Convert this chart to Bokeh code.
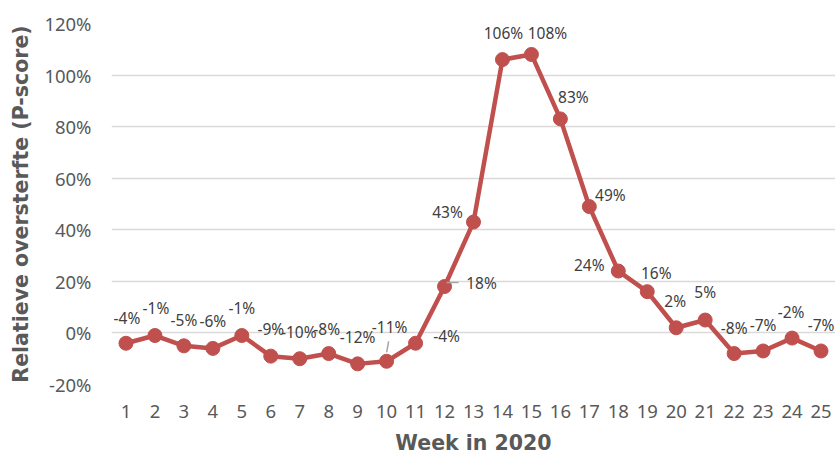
from bokeh.plotting import figure
from bokeh.models import ColumnDataSource, FixedTicker, NumeralTickFormatter, Range1d
from bokeh.core.properties import value
from bokeh.embed import file_html
from bokeh.resources import INLINE

# ---- data ----
weeks = list(range(1, 26))
pscore = [-4, -1, -5, -6, -1, -9, -10, -8, -12, -11, -4, 18, 43, 106, 108, 83, 49, 24, 16, 2, 5, -8, -7, -2, -7]
y_ticks = [-0.2, 0.0, 0.2, 0.4, 0.6, 0.8, 1.0, 1.2]
x_title = "Week in 2020"
y_title = "Relatieve oversterfte (P-score)"

# label offsets in screen pixels (style only)
label_dx = [1, 1, 0, 0, 0, 0, -1, -2, 0, 3, 31, 37, -26, 1, 16, 13, 21, -29, 9, -1, 0, 0, 0, -1, 0]
label_dy = [-25, -28, -26, -27, -28, -27, -27, -25, -27, -34, -7, -4, -10, -27, -21, -22, -12, -6, -19, -27, -28, -26, -26, -26, -26]

RED = "#C0504D"
GREY = "#595959"
DARK = "#404040"

W, H = 835, 457
left, right, top, bottom = 111, 0, 23, 73
x0, x1 = 0.5, 25.5
y0, y1 = -0.2, 1.2

p = figure(width=W, height=H, output_backend="svg", toolbar_location=None,
           x_range=Range1d(x0, x1), y_range=Range1d(y0, y1),
           min_border_left=left, min_border_right=right,
           min_border_top=top, min_border_bottom=bottom)
p.outline_line_color = None
p.background_fill_color = "white"
p.border_fill_color = "white"

vals = [v / 100 for v in pscore]
src = ColumnDataSource(dict(x=weeks, y=vals, lab=[f"{v}%" for v in pscore],
                            dx=label_dx, dy=label_dy))

p.line("x", "y", source=src, line_color=RED, line_width=4.5, line_join="round")
p.scatter("x", "y", source=src, size=14, fill_color=RED, line_color=RED)

# leader lines (for labels 10 and 12), computed from the data point positions
pxx = (W - left - right) / (x1 - x0)
pxy = (H - top - bottom) / (y1 - y0)
p.segment(x0=[weeks[9] + 0 / pxx, weeks[11] + 2 / pxx],
          y0=[vals[9] + 9 / pxy, vals[11] + 4 / pxy],
          x1=[weeks[9] + 2 / pxx, weeks[11] + 14 / pxx],
          y1=[vals[9] + 20 / pxy, vals[11] + 4 / pxy],
          line_color="#A6A6A6", line_width=1.5)

p.text("x", "y", text="lab", source=src, x_offset="dx", y_offset="dy",
       text_align="center", text_baseline="middle",
       text_font=value("Noto Sans"), text_font_size="15.5px", text_color=DARK)

# axes
p.xaxis.ticker = FixedTicker(ticks=weeks)
p.yaxis.ticker = FixedTicker(ticks=y_ticks)
p.yaxis.formatter = NumeralTickFormatter(format="0%")
for ax in (p.xaxis[0], p.yaxis[0]):
    ax.axis_line_color = None
    ax.major_tick_line_color = None
    ax.minor_tick_line_color = None
    ax.major_tick_in = 0
    ax.major_tick_out = 0
    ax.major_label_text_font = "Noto Sans"
    ax.major_label_text_font_size = "18.5px"
    ax.major_label_text_color = GREY
    ax.axis_label_text_font = "DejaVu Sans"
    ax.axis_label_text_font_style = "bold"
    ax.axis_label_text_font_size = "20.5px"
    ax.axis_label_text_color = GREY

p.xaxis.axis_label = x_title
p.yaxis.axis_label = y_title
p.xaxis.major_label_standoff = 20
p.yaxis.major_label_standoff = 20
p.xaxis.axis_label_standoff = 10
p.yaxis.axis_label_standoff = 8

p.xgrid.grid_line_color = None
p.ygrid.grid_line_color = "#D9D9D9"
p.ygrid.grid_line_width = 1.5

open("out.html", "w").write(file_html(p, INLINE))
